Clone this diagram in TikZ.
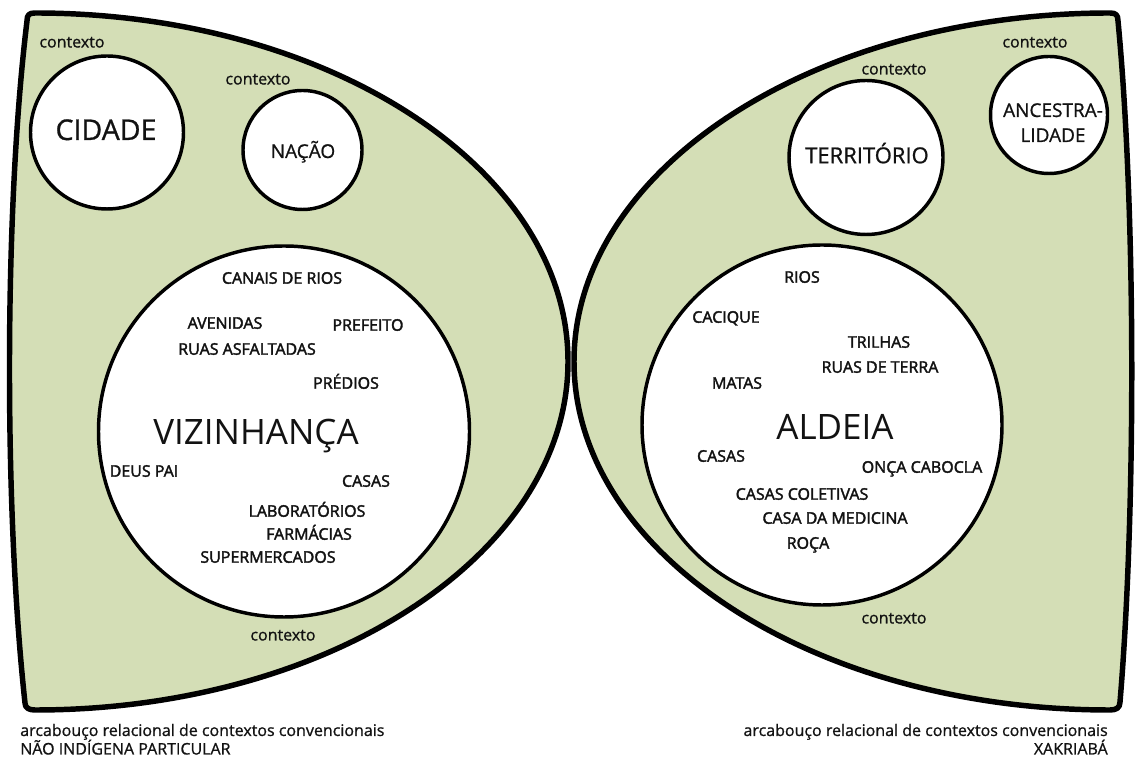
\documentclass[tikz,border=0pt]{standalone}
\usepackage{fontspec}
\setmainfont{Open Sans}
\newfontfamily\lblfont[FakeBold=2.2]{Open Sans}
\newfontfamily\ctxfont[FakeBold=0.9]{Open Sans}
\definecolor{sage}{RGB}{212,222,182}
\definecolor{ink}{RGB}{18,18,18}
\begin{document}
\begin{tikzpicture}[x=0.75pt,y=0.75pt,
  frame/.style={draw=black, line width=4.1pt, fill=sage, line join=round},
  ring/.style={circle, draw=black, line width=2.6pt, fill=white, inner sep=0pt},
  lbl/.style={anchor=base, text=ink, inner sep=0pt, font=\lblfont\fontsize{12}{14}\selectfont},
  ctx/.style={anchor=base, text=ink, inner sep=0pt, font=\ctxfont\fontsize{12}{14}\selectfont},
  big/.style={anchor=base, text=ink, inner sep=0pt, font=\fontsize{26.25}{30}\selectfont},
  mid/.style={anchor=base, text=ink, inner sep=0pt, font=\ctxfont\fontsize{#1}{#1}\selectfont}
]
\useasboundingbox[fill=white] (0,0) rectangle (1135,760);

% left frame: non-indigenous framework
\path[frame] (27,739) .. controls (27,745) and (29,747) .. (35,747)
  arc[start angle=90, end angle=-90, x radius=533, y radius=348.5]
  .. controls (29,50) and (25,52) .. (25,57)
  .. controls (4,250) and (4,550) .. (27,739) -- cycle;

% right frame: Xakriabá framework
\path[frame] (1110,747)
  arc[start angle=90, end angle=270, x radius=536, y radius=348.5]
  .. controls (1116,50) and (1120,52) .. (1120,58)
  .. controls (1136,250) and (1136,550) .. (1118,739)
  .. controls (1118,745) and (1116,747) .. (1110,747) -- cycle;

% context circles
\node[ring, minimum size=114.75pt] (cidadeR) at (107,627.5) {};
\node[ring, minimum size=89.25pt] (nacaoR) at (302.5,610) {};
\node[ring, minimum size=115.5pt] (territorioR) at (866,602.5) {};
\node[ring, minimum size=87.75pt] (ancestralR) at (1049,645) {};
\node[ring, minimum size=278.25pt] (vizinhancaR) at (284,328.5) {};
\node[ring, minimum size=270pt] (aldeiaR) at (822,335) {};

% circle titles
\node[mid=21.4] (cidade) at (106,620) {CIDADE};
\node[mid=14.25] (nacao) at (303,602) {NAÇÃO};
\node[mid=16.5] (territorio) at (867,596.75) {TERRITÓRIO};
\node[mid=14.25] (ancestra) at (1053,643) {ANCESTRA-};
\node[mid=14.25] (lidade) at (1053,618) {LIDADE};
\node[big] (vizinhanca) at (256,315.5) {VIZINHANÇA};
\node[big] (aldeia) at (835,320.5) {ALDEIA};

% "contexto" tags
\node[ctx] (ctxA) at (72,712.5) {contexto};
\node[ctx] (ctxB) at (258,675.5) {contexto};
\node[ctx] (ctxC) at (1035,712.5) {contexto};
\node[ctx] (ctxD) at (894,685.5) {contexto};
\node[ctx] (ctxE) at (283,119.5) {contexto};
\node[ctx] (ctxF) at (894,136.5) {contexto};

% neighbourhood elements
\node[lbl] (v1) at (282,476.25) {CANAIS DE RIOS};
\node[lbl] (v2) at (225,431.25) {AVENIDAS};
\node[lbl] (v3) at (368,429.25) {PREFEITO};
\node[lbl] (v4) at (247,405.25) {RUAS ASFALTADAS};
\node[lbl] (v5) at (346,371.25) {PRÉDIOS};
\node[lbl] (v6) at (144,283.25) {DEUS PAI};
\node[lbl] (v7) at (366,273.25) {CASAS};
\node[lbl] (v8) at (307,243.25) {LABORATÓRIOS};
\node[lbl] (v9) at (309,220.25) {FARMÁCIAS};
\node[lbl] (v10) at (268,197.25) {SUPERMERCADOS};

% village elements
\node[lbl] (a1) at (802,477.25) {RIOS};
\node[lbl] (a2) at (726,437.25) {CACIQUE};
\node[lbl] (a3) at (879,412.25) {TRILHAS};
\node[lbl] (a4) at (880,387.25) {RUAS DE TERRA};
\node[lbl] (a5) at (737,371.25) {MATAS};
\node[lbl] (a6) at (721,298.25) {CASAS};
\node[lbl] (a7) at (922,287.25) {ONÇA CABOCLA};
\node[lbl] (a8) at (802,260.25) {CASAS COLETIVAS};
\node[lbl] (a9) at (835,236.25) {CASA DA MEDICINA};
\node[lbl] (a10) at (808,211.25) {ROÇA};

% captions
\node[ctx, anchor=base west] (capL1) at (20,24) {arcabouço relacional de contextos convencionais};
\node[ctx, anchor=base west] (capL2) at (20,5.5) {NÃO INDÍGENA PARTICULAR};
\node[ctx, anchor=base east] (capR1) at (1108,24) {arcabouço relacional de contextos convencionais};
\node[ctx, anchor=base east] (capR2) at (1108,5.5) {XAKRIABÁ};
\end{tikzpicture}
\end{document}
